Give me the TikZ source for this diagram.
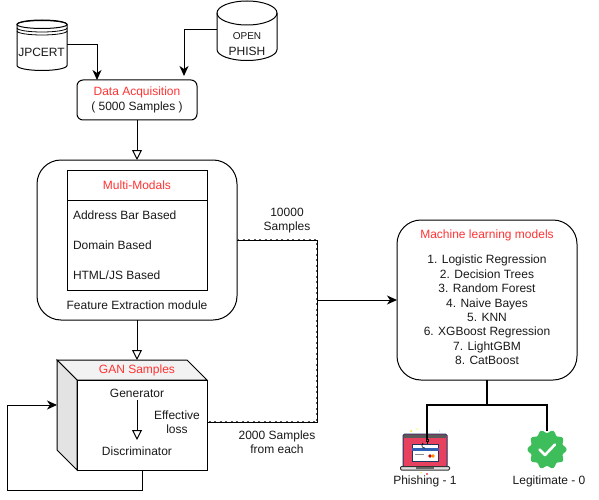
\documentclass[tikz,border=0pt]{standalone}
\usepackage{xcolor}
\usepackage{fontspec}
\setmainfont{Liberation Sans}
\usepackage{tikz}
\usetikzlibrary{arrows.meta,positioning,calc}
\definecolor{titlered}{HTML}{FF3333}
\definecolor{okgreen}{HTML}{3EBE5B}
\definecolor{screenred}{HTML}{E8415F}
\definecolor{laptopnavy}{HTML}{1E3560}
\definecolor{cardblue}{HTML}{2F62B5}

\begin{document}
\begin{tikzpicture}[
  x=1pt, y=-1pt,
  every node/.style={font=\fontsize{12}{14.4}\selectfont, text=black!90, align=center, inner sep=0pt, outer sep=0pt},
  roundbox/.style={draw, line width=1pt, minimum width=#1},
  plainbox/.style={draw, line width=1pt},
  anchorbox/.style={minimum width=#1},
  title/.style={text=titlered},
  flow/.style={line width=1pt, -{Stealth[length=10pt,width=9pt,inset=3pt]}},
  openflow/.style={line width=1pt, -{Triangle[open,length=10pt,width=10pt]}},
  plainflow/.style={line width=1pt},
  dotflow/.style={line width=.8pt, preaction={draw=black!65, line width=2.2pt, dash pattern=on 2pt off 3.5pt}},
  outflow/.style={line width=1.1pt, preaction={draw=black!60, line width=2.2pt}}
]
\useasboundingbox (0,0) rectangle (599,500);

% sources
\node[anchorbox=50pt, minimum height=50pt] (jpcert) at (42,45) {};
\draw[line width=1pt, fill=white] (17,24.5) -- (17,65.5) arc[start angle=180,end angle=360,x radius=25pt,y radius=5pt] -- (67,24.5) arc[start angle=0,end angle=180,x radius=25pt,y radius=4.5pt] -- cycle;
\draw[line width=1pt] (42,24.5) ellipse[x radius=25pt,y radius=4pt];
\draw[line width=.8pt] (17,28) arc[start angle=180,end angle=360,x radius=25pt,y radius=4pt];
\draw[line width=.8pt] (17,31) arc[start angle=180,end angle=360,x radius=25pt,y radius=4pt];
\node at (41.5,52) {JPCERT};

\node[anchorbox=60pt, minimum height=60pt] (openphish) at (247,30) {};
\draw[line width=1pt, fill=white] (217,13) -- (217,49.5) arc[start angle=180,end angle=360,x radius=30pt,y radius=11pt] -- (277,13) arc[start angle=0,end angle=180,x radius=30pt,y radius=12pt] -- cycle;
\draw[line width=1pt] (217,13) arc[start angle=180,end angle=360,x radius=30pt,y radius=12pt];
\node[font=\fontsize{10}{12}\selectfont] at (247,36) {OPEN};
\node at (247,51) {PHISH};

\node[roundbox=120pt, minimum height=40pt, rounded corners=6pt] (acquire) at (137,100) {};
\node[title] at (137,92.5) {Data Acquisition};
\node at (137,107.5) {( 5000 Samples )};

% feature module
\node[roundbox=200pt, minimum height=160pt, rounded corners=24pt] (feature) at (137,240) {};
\node[plainbox, minimum width=140pt, minimum height=120pt] (modals) at (137,230) {};
\coordinate (headleft) at (67,200);
\coordinate (headright) at (207,200);
\draw[line width=1pt] (headleft) -- (headright);
\node[title] at (137,185) {Multi-Modals};
\node[right] at (73,215) {Address Bar Based};
\node[right] at (73,245) {Domain Based};
\node[right] at (73,275) {HTML/JS Based};
\node at (137,305) {Feature Extraction module};

% gan cube
\draw[line width=1pt, fill=black!5] (57,360) -- (187,360) -- (207,380) -- (77,380) -- cycle;
\draw[line width=1pt, fill=black!11] (57,360) -- (77,380) -- (77,470) -- (57,450) -- cycle;
\node[plainbox, minimum width=130pt, minimum height=90pt] (gan) at (142,425) {};
\coordinate (gantop) at (137,360);
\coordinate (ganside) at (57,405);
\coordinate (ganright) at (207,422);
\coordinate (loopa) at (142,490);
\coordinate (loopb) at (7,490);
\coordinate (loopc) at (7,405);
\node[title] at (137,370) {GAN Samples};
\node (generator) at (137,393) {Generator};
\node (discrim) at (137,451) {Discriminator};
\node at (177,422) {Effective\\loss};

% models
\node[roundbox=180pt, minimum height=160pt, rounded corners=24pt] (models) at (487,300) {};
\node[title] at (487,235) {Machine learning models};
\node at (487,310) {1. Logistic Regression\\2. Decision Trees\\3. Random Forest\\4. Naive Bayes\\5. KNN\\6. XGBoost Regression\\7. LightGBM\\8. CatBoost};

% laptop
\node[anchorbox=50pt, minimum height=37pt] (phish) at (425,451.5) {};
\fill[yellow!80!orange] (411,431) circle (1pt);
\fill[yellow!50] (417,429) circle (.8pt);
\fill[cyan!50] (439.5,431) circle (.7pt);
\fill[yellow!80!orange] (421,472.5) circle (.7pt);
\fill[screenred] (427,474) circle (1.1pt);
\draw[line width=1pt, laptopnavy, fill=screenred, rounded corners=1.5pt] (403,434) rectangle (447,467);
\fill[black!65] (404,435) rectangle (446,438);
\draw[line width=.8pt, laptopnavy, fill=white] (412,444.5) rectangle (438.5,461.5);
\fill[cardblue] (412,447.5) rectangle (438.5,451);
\fill[black!45] (415,453.5) rectangle (424,454.5);
\fill[red!80!black] (430,456) circle (1.8pt);
\fill[orange!90!yellow] (433,456) circle (1.8pt);
\draw[line width=1pt, black!80, fill=black!12, rounded corners=1pt] (400.5,466.5) rectangle (449.5,470);
\fill[black!60] (416,467) rectangle (434,468.5);
\draw[line width=.8pt] (427,440) -- (427,444);
\draw[line width=.7pt] (423,443) .. controls (421,446) and (422,448) .. (425,448);

% badge
\node[anchorbox=38pt, minimum height=38pt] (legit) at (547,449.5) {};
\fill[okgreen] plot[domain=0:360, samples=181, smooth] ({547+(18+1.5*cos(10*\x))*cos(\x)}, {449.5+(18+1.5*cos(10*\x))*sin(\x)}) -- cycle;
\draw[white, line width=2.6pt, line cap=round, line join=round] (539.5,449.5) -- (545,455) -- (555,444.5);

\node at (425,481) {Phishing - 1};
\node at (549,481) {Legitimate - 0};

% text on links
\node at (287,220.5) {10000\\Samples};
\node at (277,442) {2000 Samples\\from each};

% links
\coordinate (phishin) at (184,76);
\coordinate (jointop) at (317,240);
\coordinate (joinmid) at (317,300);
\coordinate (joinlow) at (317,422);
\coordinate (fork) at (487,405);
\coordinate (forkleft) at (427,405);
\coordinate (forkright) at (547,405);
\coordinate (hookend) at (427,440);
\draw[flow] (jpcert.east) -| (acquire.north -| 97,0);
\draw[flow] (openphish.west) -| (phishin);
\draw[openflow] (acquire) -- (feature);
\draw[openflow] (feature) -- (gantop);
\draw[openflow] (generator.south |- 0,400) -- (discrim.north |- 0,440);
\draw[dotflow] (feature.east) -- (jointop) -- (joinlow) -- (ganright);
\draw[flow] (joinmid) -- (models.west);
\draw[plainflow] (gan.south) -- (loopa) -- (loopb) -- (loopc);
\draw[flow] (loopc) -- (ganside);
\draw[outflow] (models.south) -- (fork) -- (forkleft) -- (hookend);
\draw[outflow] (fork) -- (forkright) -- (legit.north);
\draw[line width=.7pt, fill=screenred] (426,439.5) rectangle (428,441.5);
\end{tikzpicture}
\end{document}
